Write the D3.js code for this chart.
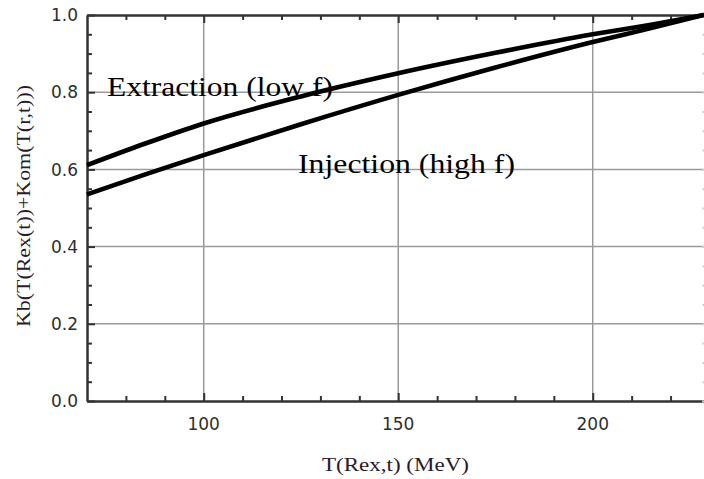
<!DOCTYPE html>
<html>
<head>
<meta charset="utf-8">
<script src="https://cdn.jsdelivr.net/npm/d3@7.9.0/dist/d3.min.js"></script>
<style>
  body { margin: 0; background: #fff; }
  svg { display: block; }
  .ticklabel { font-family: "DejaVu Sans", sans-serif; font-size: 17px; fill: #2e2e2e; }
</style>
</head>
<body>
<svg id="chart" width="704" height="479"></svg>
<script>
// values
const xDomain = [70, 228.6];
const yDomain = [0, 1];
const xMajor = [100, 150, 200];
const xMinor = [80, 90, 110, 120, 130, 140, 160, 170, 180, 190, 210, 220];
const yMajor = [0, 0.2, 0.4, 0.6, 0.8, 1.0];
const yMinor = [0.05, 0.1, 0.15, 0.25, 0.3, 0.35, 0.45, 0.5, 0.55, 0.65, 0.7, 0.75, 0.85, 0.9, 0.95];

const energy     = [70,    85,    100,   125,   150,   175,   200,   215,   228.6];
const extraction = [0.611, 0.667, 0.719, 0.789, 0.849, 0.902, 0.950, 0.975, 1.0];
const injection  = [0.535, 0.587, 0.637, 0.717, 0.793, 0.864, 0.930, 0.966, 1.0];

const svg = d3.select('#chart');
const mLeft = 87, mRight = 704, mTop = 15, mBottom = 401;

const x = d3.scaleLinear().domain(xDomain).range([mLeft, mRight]);
const y = d3.scaleLinear().domain(yDomain).range([mBottom, mTop]);

// grid lines
const grid = svg.append('g').attr('stroke', '#9a9a9a').attr('stroke-width', 1.5);
xMajor.forEach(v => {
  grid.append('line').attr('x1', x(v)).attr('x2', x(v)).attr('y1', mTop).attr('y2', mBottom);
});
yMajor.filter(v => v > 0 && v < 1).forEach(v => {
  grid.append('line').attr('x1', mLeft).attr('x2', mRight).attr('y1', y(v)).attr('y2', y(v));
});

// frame axes with inward ticks (labels drawn separately)
function frameAxis(axis, transform, major, minor, color, big, small) {
  const g = svg.append('g').attr('transform', transform);
  g.call(axis.tickValues(major).tickSizeInner(big).tickSizeOuter(0).tickFormat(''));
  const gm = svg.append('g').attr('transform', transform);
  gm.call(axis.tickValues(minor).tickSizeInner(small).tickSizeOuter(0).tickFormat(''));
  [g, gm].forEach(s => {
    s.selectAll('.domain').attr('stroke', color).attr('stroke-width', 2);
    s.selectAll('.tick line').attr('stroke', color).attr('stroke-width', 2);
  });
}

frameAxis(d3.axisTop(x), `translate(0,${mBottom})`, xMajor, xMinor, '#333', 8, 5);
frameAxis(d3.axisRight(y), `translate(${mLeft},0)`, yMajor, yMinor, '#333', 8, 5);
frameAxis(d3.axisBottom(x), `translate(0,${mTop})`, xMajor, xMinor, '#333', 8, 5);
// right frame, cut off at the edge: only faint tick stubs show
frameAxis(d3.axisLeft(y), `translate(705,0)`, yMajor, yMinor, '#cfcfcf', 3, 2.5);

// tick labels
svg.append('g').selectAll('text')
  .data(xMajor).join('text')
  .attr('class', 'ticklabel')
  .attr('x', d => x(d)).attr('y', 430)
  .attr('text-anchor', 'middle')
  .text(d3.format('d'));

svg.append('g').selectAll('text')
  .data(yMajor).join('text')
  .attr('class', 'ticklabel')
  .attr('x', mLeft - 9).attr('y', d => y(d))
  .attr('dy', '0.36em')
  .attr('text-anchor', 'end')
  .text(d3.format('.1f'));

// curves
const line = d3.line()
  .x((d, i) => x(energy[i]))
  .y(d => y(d))
  .curve(d3.curveMonotoneX);

[extraction, injection].forEach(series => {
  svg.append('path')
    .attr('d', line(series))
    .attr('fill', 'none')
    .attr('stroke', '#000')
    .attr('stroke-width', 4.6);
});

// annotations
svg.append('text')
  .attr('x', 107).attr('y', 96)
  .attr('font-family', 'Liberation Serif, Times New Roman, serif')
  .attr('font-size', 27)
  .attr('textLength', 226).attr('lengthAdjust', 'spacingAndGlyphs')
  .text('Extraction (low f)');

svg.append('text')
  .attr('x', 298).attr('y', 173)
  .attr('font-family', 'Liberation Serif, Times New Roman, serif')
  .attr('font-size', 27)
  .attr('textLength', 217).attr('lengthAdjust', 'spacingAndGlyphs')
  .text('Injection (high f)');

// axis titles
svg.append('text')
  .attr('x', 322).attr('y', 471)
  .attr('font-family', 'Liberation Serif, Times New Roman, serif')
  .attr('font-size', 18).attr('fill', '#2a1a2a')
  .attr('textLength', 147).attr('lengthAdjust', 'spacingAndGlyphs')
  .text('T(Rex,t) (MeV)');

svg.append('text')
  .attr('transform', 'translate(30,327) rotate(-90)')
  .attr('font-family', 'Liberation Serif, Times New Roman, serif')
  .attr('font-size', 18).attr('fill', '#2a1a2a')
  .attr('textLength', 242).attr('lengthAdjust', 'spacingAndGlyphs')
  .text('Kb(T(Rex(t))+Kom(T(r,t)))');
</script>
</body>
</html>
